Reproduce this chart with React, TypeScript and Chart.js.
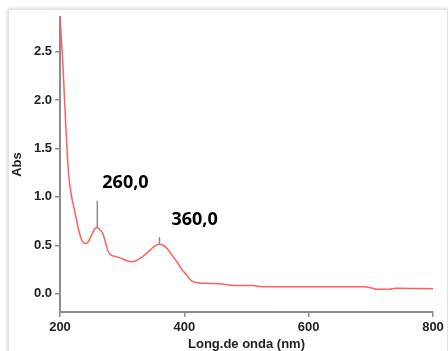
import React, { useEffect, useRef } from 'react';
import { Chart, registerables } from 'chart.js';

Chart.register(...registerables);

const wavelengths = [
  200, 204, 207, 210, 212, 214, 216, 218, 220, 222, 225, 228, 232, 236, 240, 243,
  246, 249, 252, 256, 260, 264, 268, 272, 276, 280, 285, 292, 300, 308, 315,
  322, 330, 338, 345, 352, 360, 366, 372, 380, 388, 396, 404, 410, 416, 425,
  440, 460, 470, 480, 510, 520, 530, 600, 690, 700, 710, 730, 740, 800,
];
const absorbance = [
  2.86, 2.45, 2.05, 1.65, 1.42, 1.23, 1.11, 1.03, 0.96, 0.9, 0.81, 0.72, 0.61, 0.54, 0.52, 0.52,
  0.54, 0.58, 0.62, 0.67, 0.68, 0.66, 0.63, 0.56, 0.46, 0.41, 0.39, 0.38, 0.36, 0.34, 0.33,
  0.34, 0.37, 0.41, 0.45, 0.49, 0.51, 0.5, 0.47, 0.4, 0.33, 0.25, 0.19, 0.14, 0.12, 0.11,
  0.105, 0.1, 0.09, 0.085, 0.083, 0.075, 0.07, 0.07, 0.07, 0.06, 0.045, 0.045, 0.055, 0.05,
];
const xTickValues = [200, 400, 600, 800];
const yTickValues = [0, 0.5, 1.0, 1.5, 2.0, 2.5];
const peakWavelengths = [260, 360];
const peakAbs = [0.68, 0.51];
const markerTopAbs = [0.96, 0.585];
const peakLabels = ['260,0', '360,0'];
const xTitle = 'Long.de onda (nm)';
const yTitle = 'Abs';

const labelDx = [5, 12];

const overlayPlugin = {
  id: 'overlay',
  afterDatasetsDraw(chart: any) {
    const { ctx, scales, chartArea } = chart;
    const x = scales.x;
    const y = scales.y;
    ctx.save();
    ctx.strokeStyle = '#8c8c8c';
    ctx.lineWidth = 1.5;
    peakWavelengths.forEach((w, i) => {
      const px = x.getPixelForValue(w);
      const py0 = y.getPixelForValue(peakAbs[i]);
      const py1 = y.getPixelForValue(markerTopAbs[i]);
      ctx.beginPath();
      ctx.moveTo(px, py0);
      ctx.lineTo(px, py1);
      ctx.stroke();
      ctx.fillStyle = '#000';
      ctx.font = 'bold 18px "Open Sans"';
      ctx.textAlign = 'left';
      ctx.textBaseline = 'alphabetic';
      ctx.fillText(peakLabels[i], px + labelDx[i], py1 - 12.5);
    });
    ctx.fillStyle = '#222';
    ctx.font = 'bold 13px "Liberation Sans"';
    ctx.textAlign = 'center';
    ctx.textBaseline = 'middle';
    ctx.fillText(xTitle, (chartArea.left + chartArea.right) / 2, 344);
    ctx.translate(17.5, (chartArea.top + chartArea.bottom) / 2);
    ctx.rotate(-Math.PI / 2);
    ctx.fillText(yTitle, 0, 0);
    ctx.restore();
  },
};

export default function App() {
  const ref = useRef<HTMLCanvasElement | null>(null);
  useEffect(() => {
    if (!ref.current) return;
    const axisColor = '#8c8c8c';
    const tickFont = { family: 'Liberation Sans', size: 13, weight: 'bold' as const };
    const chart = new Chart(ref.current, {
      type: 'line',
      data: {
        datasets: [
          {
            data: wavelengths.map((w, i) => ({ x: w, y: absorbance[i] })),
            borderColor: '#ff5f5f',
            borderWidth: 1.5,
            pointRadius: 0,
            fill: false,
            cubicInterpolationMode: 'monotone',
          },
        ],
      },
      options: {
        animation: false,
        responsive: false,
        devicePixelRatio: 1,
        layout: { padding: { top: 17, right: 15, left: 0, bottom: 0 } },
        plugins: { legend: { display: false }, tooltip: { enabled: false } },
        scales: {
          x: {
            type: 'linear',
            min: 200,
            max: 800,
            afterBuildTicks: (s: any) => {
              s.ticks = xTickValues.map((v) => ({ value: v }));
            },
            afterFit: (s: any) => {
              s.height = 39;
            },
            ticks: {
              font: tickFont,
              color: '#222',
              padding: 3,
              maxRotation: 0,
              autoSkip: false,
              callback: (v: any) => String(v),
            },
            grid: {
              display: true,
              drawOnChartArea: false,
              drawTicks: true,
              tickLength: 5,
              color: axisColor,
              lineWidth: 1.5,
            },
            border: { display: true, color: axisColor, width: 2 },
          },
          y: {
            type: 'linear',
            min: -0.19,
            max: 2.86,
            afterBuildTicks: (s: any) => {
              s.ticks = yTickValues.map((v) => ({ value: v }));
            },
            afterFit: (s: any) => {
              s.width = 60;
            },
            ticks: {
              font: tickFont,
              color: '#222',
              padding: 3,
              autoSkip: false,
              callback: (v: any) => Number(v).toFixed(1),
            },
            grid: {
              display: true,
              drawOnChartArea: false,
              drawTicks: true,
              tickLength: 5,
              color: axisColor,
              lineWidth: 1.5,
            },
            border: { display: true, color: axisColor, width: 2 },
          },
        },
      },
      plugins: [overlayPlugin],
    });
    return () => chart.destroy();
  }, []);

  return (
    <div
      style={{
        position: 'fixed',
        left: 0,
        top: 0,
        width: 448,
        height: 351,
        overflow: 'hidden',
        background: '#fff',
      }}
    >
      <div
        style={{
          position: 'absolute',
          left: 8,
          top: 9,
          width: 438,
          height: 400,
          border: '1px solid #e2e2e2',
          boxShadow: '0 0 4px rgba(0,0,0,0.22)',
          background: '#fff',
        }}
      />
      <canvas
        ref={ref}
        width={448}
        height={351}
        style={{ position: 'absolute', left: 0, top: 0, width: 448, height: 351 }}
      />
    </div>
  );
}
